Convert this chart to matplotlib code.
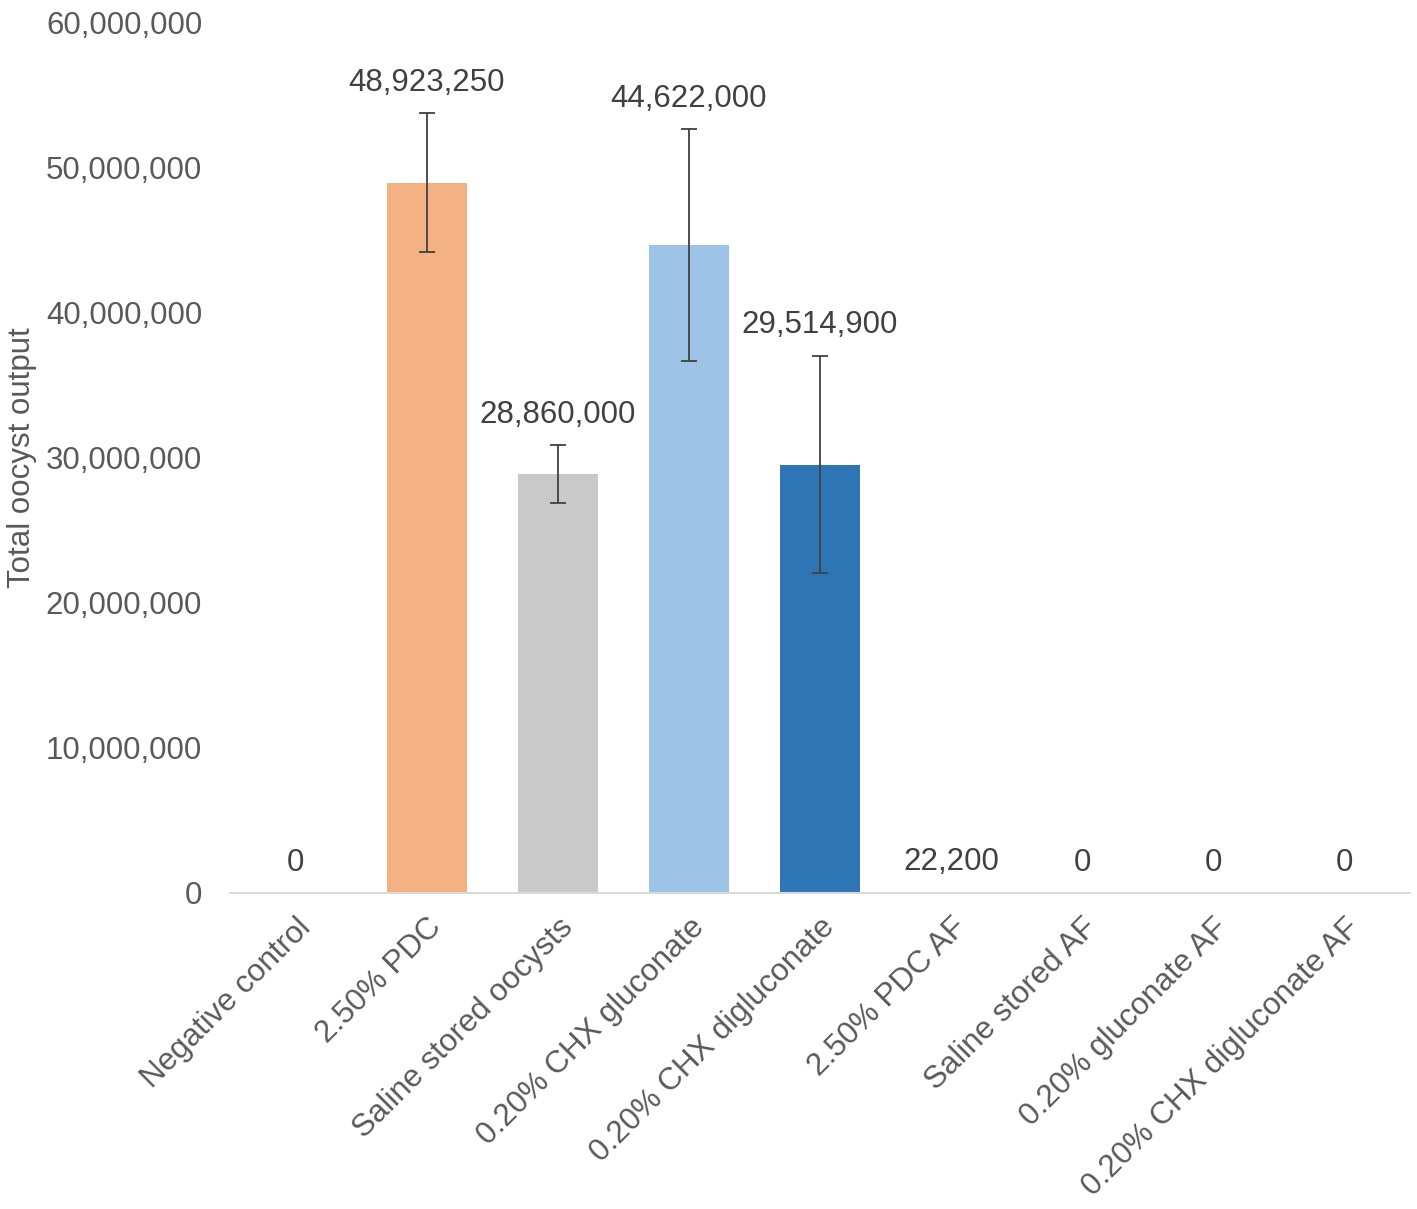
import matplotlib.pyplot as plt
import numpy as np
from matplotlib.ticker import FuncFormatter

plt.rcParams['font.family'] = ['Liberation Sans', 'DejaVu Sans']

categories = ['Negative control', '2.50% PDC', 'Saline stored oocysts',
              '0.20% CHX gluconate', '0.20% CHX digluconate', '2.50% PDC AF',
              'Saline stored AF', '0.20% gluconate AF', '0.20% CHX digluconate AF']
values = [0, 48923250, 28860000, 44622000, 29514900, 22200, 0, 0, 0]
errors = [0, 4800000, 2000000, 8000000, 7500000, 0, 0, 0, 0]
colors = ['#F4B183', '#F4B183', '#C9C9C9', '#9DC3E6', '#2E75B6',
          '#F4B183', '#C9C9C9', '#9DC3E6', '#2E75B6']
yticks = [0, 10000000, 20000000, 30000000, 40000000, 50000000, 60000000]

fig = plt.figure(figsize=(14.17, 12.09), dpi=100)
ax = fig.add_axes([0.1623, 0.2614, 0.8327, 0.7204])

x = np.arange(len(categories))
errs = [e if e > 0 else np.nan for e in errors]
ax.bar(x, values, width=0.61, color=colors, zorder=2)
ax.errorbar(x, values, yerr=errs, fmt='none', ecolor='#404040', elinewidth=1.3,
            capsize=6, capthick=1.3, zorder=3)

for xi, v, e in zip(x, values, errors):
    ax.annotate(f'{v:,}', (xi, v + e), xytext=(0, 11), textcoords='offset points',
                ha='center', va='bottom', fontsize=22.5, color='#404040')

ax.set_xlim(-0.5, 8.5)
ax.set_ylim(0, 60000000)
ax.set_yticks(yticks)
ax.yaxis.set_major_formatter(FuncFormatter(lambda v, p: f'{int(v):,}'))
ax.set_xticks(x)
ax.set_xticklabels(categories, rotation=45, ha='right', va='top', rotation_mode='anchor')
ax.tick_params(axis='both', length=0, labelsize=22.5, labelcolor='#595959')
ax.tick_params(axis='y', pad=20)
ax.tick_params(axis='x', pad=14)
for s in ['top', 'right', 'left']:
    ax.spines[s].set_visible(False)
ax.spines['bottom'].set_color('#D9D9D9')
ax.spines['bottom'].set_linewidth(1.5)
ax.set_ylabel('Total oocyst output', fontsize=22.5, color='#595959')
ax.yaxis.set_label_coords(-0.1636, 0.5)

fig.savefig('out.png', dpi=100)
